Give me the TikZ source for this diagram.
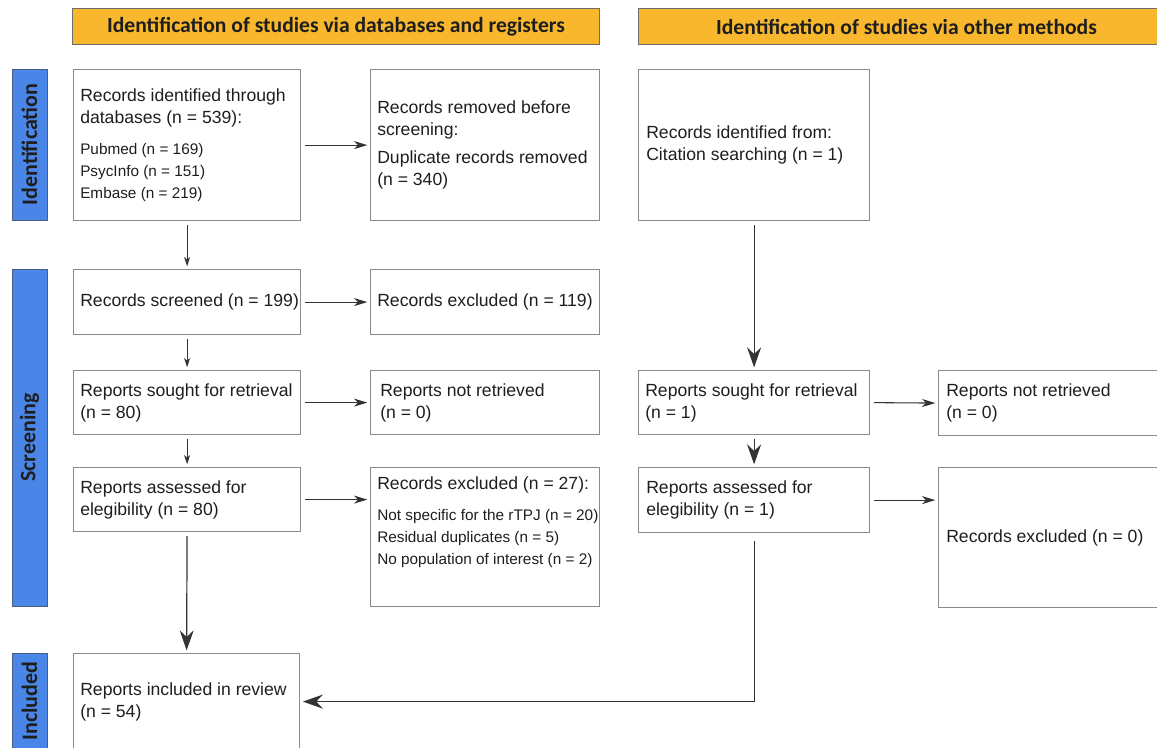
\documentclass[tikz,border=0pt]{standalone}
\usepackage{fontspec}
\setmainfont{Liberation Sans}
\newfontfamily\hdrfont{Carlito}
\usetikzlibrary{arrows.meta}
\definecolor{hdrfill}{HTML}{F8B72C}
\definecolor{hdrline}{HTML}{6E6E6E}
\definecolor{bandfill}{HTML}{4A86E8}
\definecolor{bandline}{HTML}{4A5F80}
\definecolor{boxline}{HTML}{8A8A8A}
\definecolor{ink}{HTML}{1E1E1E}
\definecolor{arrowc}{HTML}{333333}
\newcommand\mainsz{\fontsize{13.2pt}{16.5pt}\selectfont}
\newcommand\smallsz{\fontsize{11.5pt}{16.5pt}\selectfont}
\begin{document}
\begin{tikzpicture}[x=0.75pt,y=-0.75pt,
  hdr/.style={draw=hdrline, line width=0.75pt, fill=hdrfill, anchor=north west, inner sep=0pt, minimum height=27pt, font=\hdrfont\bfseries\fontsize{16.2pt}{19pt}\selectfont, text=ink},
  bandbox/.style={draw=bandline, line width=0.75pt, fill=bandfill, rotate=90, inner sep=0pt, minimum height=26.25pt, font=\hdrfont\bfseries\fontsize{16.5pt}{19pt}\selectfont, text=ink},
  box/.style={draw=boxline, line width=0.9pt, anchor=north west, inner sep=0pt},
  txt/.style={anchor=west, align=left, inner sep=0pt, font=\mainsz, text=ink},
  arr/.style={draw=arrowc, line width=0.8pt, -{Stealth[length=10pt,width=6pt,inset=3pt]}, shorten <=3pt, shorten >=2pt},
  varr/.style={arr, -{Stealth[length=7pt,width=4.5pt,inset=2pt]}},
  bigarr/.style={arr, line width=0.9pt, -{Stealth[length=15pt,width=10.5pt,inset=5pt]}},
]
\useasboundingbox (0,0) rectangle (1157,747);
% headers
\node[hdr, minimum width=395.25pt] (H1) at (72,8) {Identification of studies via databases and registers};
\node[hdr, minimum width=402pt] (H2) at (638,8) {Identification of studies via other methods};
% phase bands
\node[bandbox, minimum width=113.25pt] (L1) at (29.5,144.5) {Identification};
\node[bandbox, minimum width=252.75pt] (L2) at (29.5,437.5) {Screening};
\node[bandbox, minimum width=72pt] (L3) at (29.5,701) {Included};
% left column
\node[box, minimum width=170.25pt, minimum height=113.25pt] (B1) at (73,69) {};
\node[box, minimum width=170.25pt, minimum height=48.75pt] (B2) at (73,269) {};
\node[box, minimum width=170.25pt, minimum height=48pt] (B3) at (73,370) {};
\node[box, minimum width=170.25pt, minimum height=48pt] (B4) at (73,467) {};
\node[box, minimum width=169.5pt, minimum height=72pt] (B5) at (73,653) {};
% middle column
\node[box, minimum width=171.75pt, minimum height=113.25pt] (M1) at (370,69) {};
\node[box, minimum width=171.75pt, minimum height=48.75pt] (M2) at (370,269) {};
\node[box, minimum width=171.75pt, minimum height=48pt] (M3) at (370,370) {};
\node[box, minimum width=171.75pt, minimum height=104.25pt] (M4) at (370,467) {};
% right columns
\node[box, minimum width=173.25pt, minimum height=113.25pt] (R1) at (638,69) {};
\node[box, minimum width=173.25pt, minimum height=48pt] (R3) at (638,370) {};
\node[box, minimum width=173.25pt, minimum height=48.75pt] (R4) at (638,467) {};
\node[box, minimum width=172pt, minimum height=48.75pt] (F3) at (938,370) {};
\node[box, minimum width=172pt, minimum height=105pt] (F4) at (938,467) {};
% texts
\node[txt] (B1t) at ([xshift=5.25pt]B1.west) {Records identified through\\databases (n = 539):\\[7pt]\smallsz Pubmed (n = 169)\\\smallsz PsycInfo (n = 151)\\\smallsz Embase (n = 219)};
\node[txt] (B2t) at ([xshift=5.25pt]B2.west) {Records screened (n = 199)};
\node[txt] (B3t) at ([xshift=5.25pt]B3.west) {Reports sought for retrieval\\(n = 80)};
\node[txt] (B4t) at ([xshift=5.25pt]B4.west) {Reports assessed for\\elegibility (n = 80)};
\node[txt] (B5t) at ([xshift=5.25pt]B5.west) {Reports included in review\\(n = 54)};
\node[txt] (M1t) at ([xshift=5.25pt]M1.west) {Records removed before\\screening:\\[4.5pt]Duplicate records removed\\(n = 340)};
\node[txt] (M2t) at ([xshift=5.25pt]M2.west) {Records excluded (n = 119)};
\node[txt] (M3t) at ([xshift=7.5pt]M3.west) {Reports not retrieved\\(n = 0)};
\node[txt, anchor=north west] (M4t) at ([xshift=5.25pt,yshift=-6.75pt]M4.north west) {Records excluded (n = 27):\\[7pt]\smallsz Not specific for the rTPJ (n = 20)\\\smallsz Residual duplicates (n = 5)\\\smallsz No population of interest (n = 2)};
\node[txt] (R1t) at ([xshift=6pt]R1.west) {Records identified from:\\Citation searching (n = 1)};
\node[txt] (R3t) at ([xshift=5.25pt]R3.west) {Reports sought for retrieval\\(n = 1)};
\node[txt] (R4t) at ([xshift=6pt]R4.west) {Reports assessed for\\elegibility (n = 1)};
\node[txt] (F3t) at ([xshift=6pt]F3.west) {Reports not retrieved\\(n = 0)};
\node[txt] (F4t) at ([xshift=6pt]F4.west) {Records excluded (n = 0)};
% connectors
\draw[arr] (B1.east) -- (M1.west);
\draw[varr] (B1.south) -- (B2.north);
\draw[arr] (B2.east) -- (M2.west);
\draw[varr] (B2.south) -- (B3.north);
\draw[arr] (B3.east) -- (M3.west);
\draw[varr] (B3.south) -- (B4.north);
\draw[arr] (B4.east) -- (B4.east -| M4.west);
\draw[bigarr] (B4.south) -- (B5.north);
\draw[bigarr] (R1.south) -- (R3.north);
\draw[arr] (R3.east) -- (F3.west);
\draw[bigarr] (R3.south) -- (R4.north);
\draw[arr] (R4.east) -- (R4.east -| F4.west);
\draw[bigarr, shorten <=6pt] (R4.south) |- (B5.east);
\end{tikzpicture}
\end{document}
